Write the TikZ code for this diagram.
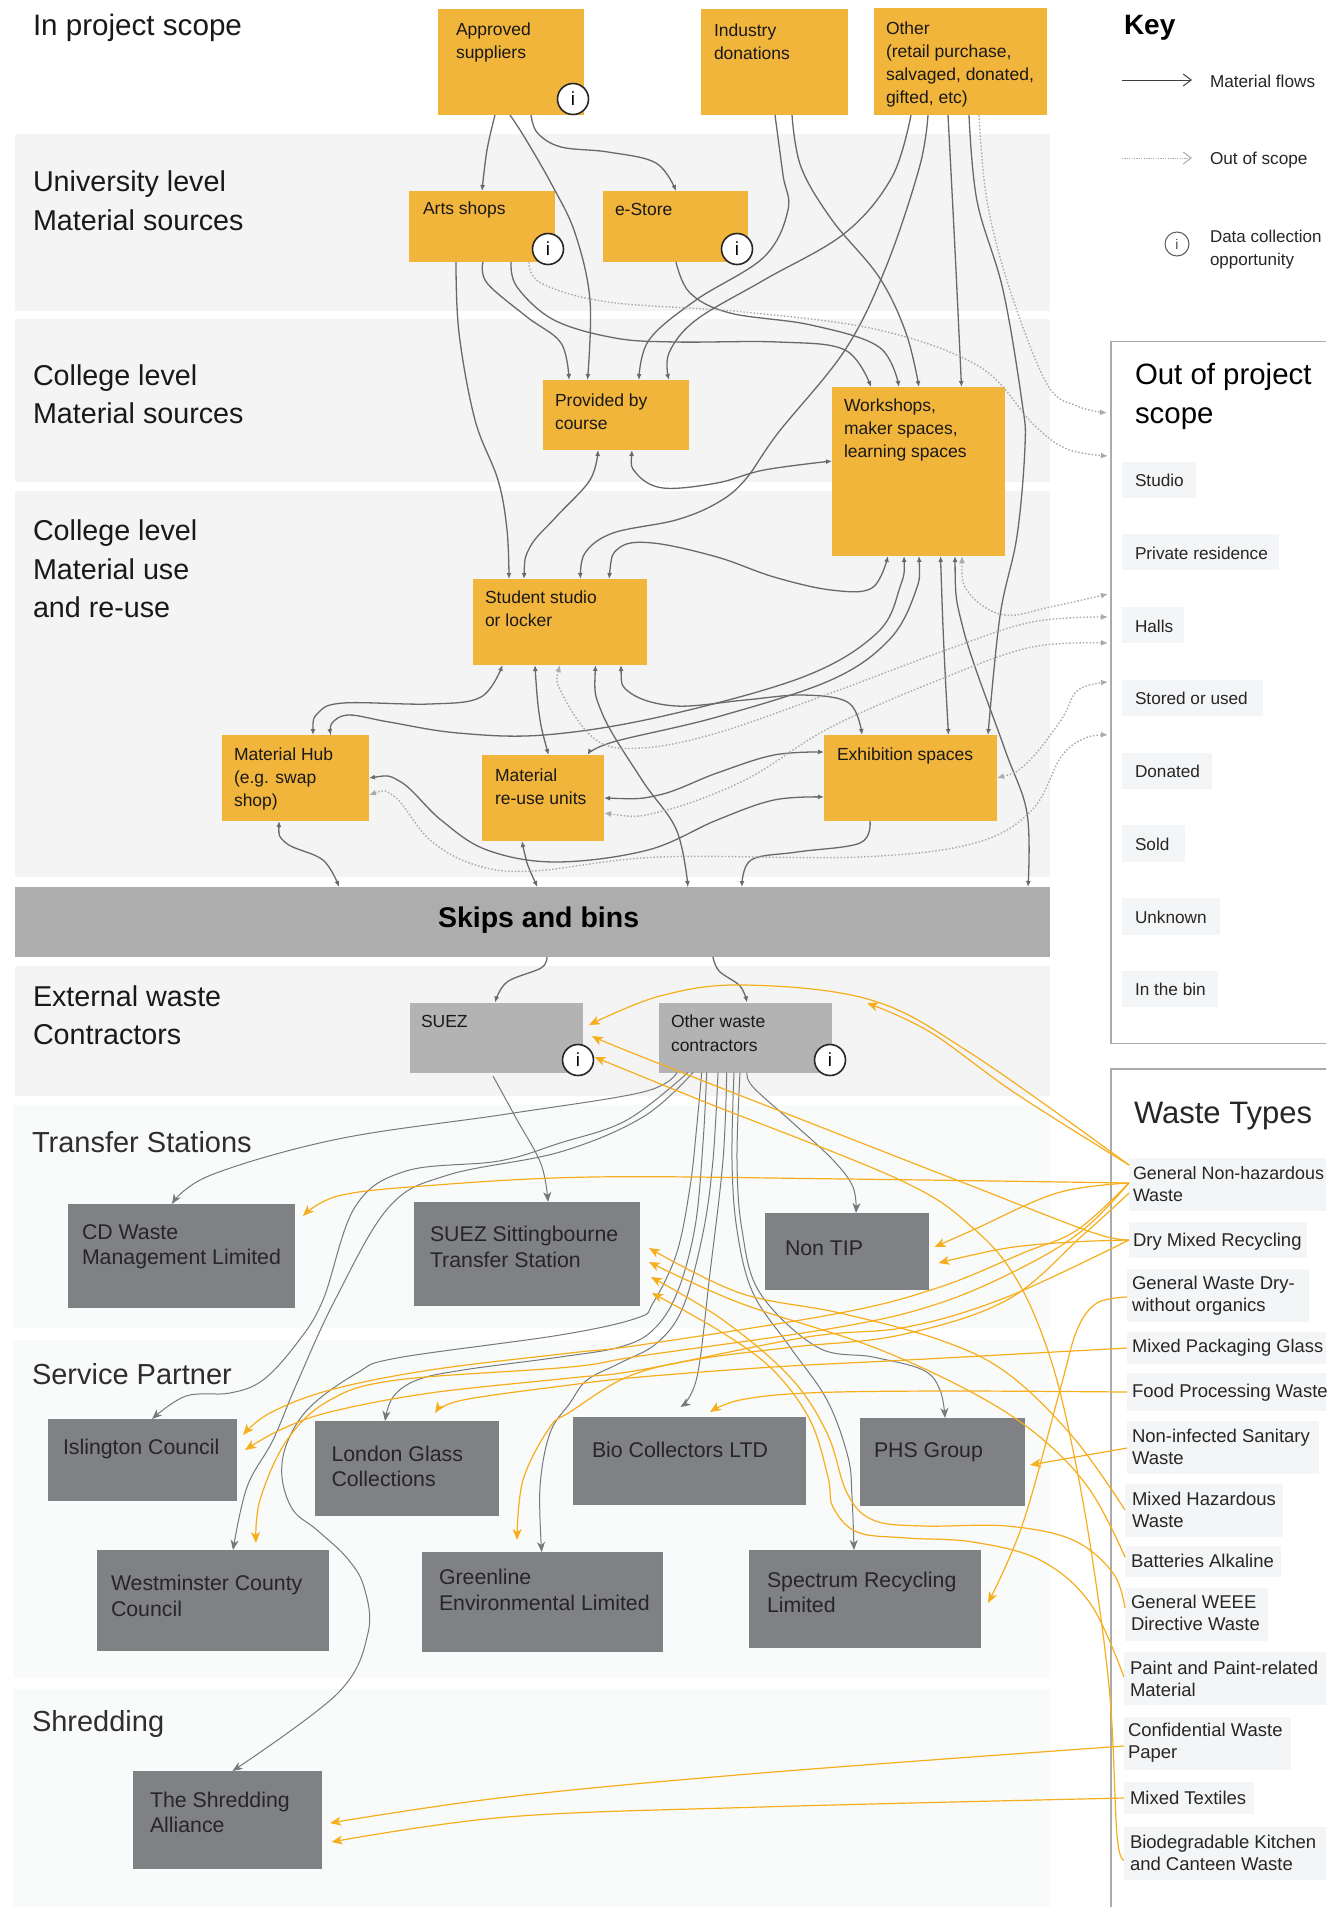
\documentclass[tikz,border=0pt]{standalone}
\usepackage{fontspec}
\setmainfont{Liberation Sans}
\usetikzlibrary{arrows.meta}
\definecolor{amber}{HTML}{F2B53C}
\definecolor{bandA}{HTML}{F4F4F4}
\definecolor{bandB}{HTML}{F9FAFA}
\definecolor{skipc}{HTML}{ADADAD}
\definecolor{suezc}{HTML}{B3B3B3}
\definecolor{darkbox}{HTML}{808184}
\definecolor{chipc}{HTML}{F4F5F6}
\definecolor{flowc}{HTML}{69696B}
\definecolor{wastec}{HTML}{77787A}
\definecolor{orangec}{HTML}{F7AE1C}
\definecolor{scopec}{HTML}{ABABAB}
\tikzset{
  boxbase/.style={rectangle,inner sep=0pt,outer sep=0pt,draw=none},
  bandA/.style={boxbase,fill=bandA},
  bandB/.style={boxbase,fill=bandB},
  amberbox/.style={boxbase,fill=amber},
  suezbox/.style={boxbase,fill=suezc},
  darkb/.style={boxbase,fill=darkbox},
  skipbox/.style={boxbase,fill=skipc},
  chip/.style={boxbase,fill=chipc},
  txt/.style={inner sep=0pt,outer sep=0pt,anchor=west,align=left},
  head/.style={txt,text=black!90,font=\fontsize{28.7}{38.5}\selectfont},
  headb/.style={txt,text=black!82,font=\fontsize{29}{38}\selectfont},
  amt/.style={txt,text=black!90,font=\fontsize{17.5}{23}\selectfont},
  sut/.style={txt,text=black!90,font=\fontsize{17.5}{24}\selectfont},
  dkt/.style={txt,text=black!85,font=\fontsize{21.3}{25.5}\selectfont},
  cht/.style={txt,text=black!85,font=\fontsize{17.2}{21.8}\selectfont},
  wct/.style={txt,text=black!85,font=\fontsize{18.5}{21.8}\selectfont},
  infoc/.style={circle,draw=black!85,fill=white,line width=1.6pt,minimum size=31pt,inner sep=0pt,font=\fontsize{19}{19}\selectfont},
  flowe/.style={draw=flowc,line width=1.3pt,-{Latex[length=6pt,width=5pt]}},
  flowb/.style={draw=flowc,line width=1.3pt,{Latex[length=6pt,width=5pt]}-{Latex[length=6pt,width=5pt]}},
  scopee/.style={draw=scopec,line width=1.4pt,dash pattern=on 1.5pt off 1.9pt,-{Latex[length=7pt,width=6pt]}},
  scopeb/.style={draw=scopec,line width=1.4pt,dash pattern=on 1.5pt off 1.9pt,{Latex[length=7pt,width=6pt]}-{Latex[length=7pt,width=6pt]}},
  wastee/.style={draw=wastec,line width=1pt,-{Stealth[length=10pt,width=8pt,inset=3pt]}},
  orangee/.style={draw=orangec,line width=1.2pt,-{Stealth[length=11pt,width=9pt,inset=3pt]}},
  frame/.style={draw=black!33,line width=1.3pt}
}
\newcommand\bx[6]{\node[#6,minimum width={(#4-#2)*1pt},minimum height={(#5-#3)*1pt}] (#1) at ({(#2+#4)/2},{(#3+#5)/2}) {};}
\newcommand\tx[5]{\node[#4] (#1) at (#2,#3) {#5};}
\newcommand\cv[2]{\draw[#1] plot[smooth,tension=0.6] coordinates {#2};}
\begin{document}
\begin{tikzpicture}[x=1pt,y=-1pt]
\useasboundingbox (0,0) rectangle (1326,1907);
\clip (0,0) rectangle (1326,1907);
\fill[white] (0,0) rectangle (1326,1907);
% bands
\bx{bUni}{15}{134}{1050}{311}{bandA}
\bx{bCol}{15}{319}{1050}{482}{bandA}
\bx{bUse}{15}{491}{1050}{877}{bandA}
\bx{bExt}{15}{966}{1050}{1096}{bandA}
\bx{bTra}{13}{1105}{1050}{1328}{bandB}
\bx{bSer}{13}{1340}{1050}{1678}{bandB}
\bx{bShr}{13}{1689}{1050}{1907}{bandB}
\bx{skips}{15}{887}{1050}{957}{skipbox}
% amber boxes
\bx{app}{438}{9}{584}{115}{amberbox}
\bx{ind}{701}{9}{848}{115}{amberbox}
\bx{oth}{874}{8}{1047}{115}{amberbox}
\bx{arts}{409}{191}{555}{262}{amberbox}
\bx{est}{603}{191}{748}{262}{amberbox}
\bx{prov}{543}{380}{689}{450}{amberbox}
\bx{work}{832}{387}{1005}{556}{amberbox}
\bx{stud}{473}{579}{647}{665}{amberbox}
\bx{hub}{222}{735}{369}{821}{amberbox}
\bx{reuse}{482}{755}{604}{841}{amberbox}
\bx{exh}{824}{735}{997}{821}{amberbox}
% contractors
\bx{suez}{410}{1002.5}{583}{1072.5}{suezbox}
\bx{owc}{659}{1002.5}{832}{1072.5}{suezbox}
% dark boxes
\bx{cd}{68}{1204}{295}{1307.5}{darkb}
\bx{sitt}{413.5}{1202}{640}{1306}{darkb}
\bx{ntip}{764.5}{1213}{928.5}{1290}{darkb}
\bx{isl}{48}{1419}{237}{1501}{darkb}
\bx{lon}{315}{1421}{499}{1516}{darkb}
\bx{bio}{573}{1417}{806}{1505}{darkb}
\bx{phs}{860}{1418}{1025}{1506}{darkb}
\bx{wes}{97}{1550}{329}{1651}{darkb}
\bx{gre}{422}{1552}{663}{1652}{darkb}
\bx{spe}{749}{1550}{981}{1648}{darkb}
\bx{shr}{133}{1771}{322}{1869}{darkb}
% right panels
\draw[frame] (1340,341.5) -- (1111,341.5) -- (1111,1043.5) -- (1340,1043.5);
\draw[frame] (1340,1069) -- (1111,1069) -- (1111,1920);
\bx{cStu}{1122}{462}{1196}{498}{chip}
\bx{cPri}{1122}{534}{1279}{570}{chip}
\bx{cHal}{1122}{607}{1184}{643}{chip}
\bx{cSto}{1122}{680}{1263}{716}{chip}
\bx{cDon}{1122}{753}{1212}{789}{chip}
\bx{cSol}{1122}{825}{1185}{862}{chip}
\bx{cUnk}{1122}{898}{1220}{935}{chip}
\bx{cBin}{1122}{971}{1218}{1007}{chip}
\bx{wGNH}{1129}{1158}{1340}{1211}{chip}
\bx{wDry}{1129}{1222}{1307}{1258}{chip}
\bx{wGWD}{1127}{1269}{1309}{1322}{chip}
\bx{wPac}{1127}{1332}{1340}{1364}{chip}
\bx{wFoo}{1127}{1373}{1340}{1411}{chip}
\bx{wSan}{1127}{1421}{1319}{1474}{chip}
\bx{wHaz}{1125}{1484}{1283}{1537}{chip}
\bx{wBat}{1125}{1546}{1281}{1577}{chip}
\bx{wWEE}{1125}{1588}{1268}{1641}{chip}
\bx{wPai}{1124}{1652}{1340}{1705}{chip}
\bx{wCon}{1124}{1717}{1291}{1770}{chip}
\bx{wTex}{1124}{1782}{1254}{1814}{chip}
\bx{wBio}{1124}{1827}{1340}{1880}{chip}
% free ends of out-of-scope flows at the panel
\coordinate (pA) at (1107,413);
\coordinate (pB) at (1108,456);
\coordinate (pC) at (1108,594);
\coordinate (pD) at (1108,617);
\coordinate (pE) at (1108,643);
\coordinate (pF) at (1108,682);
\coordinate (pG) at (1108,735);
% material flows
\cv{flowe}{(495,0 |- app.south) (487,150) (482,0 |- arts.north)}
\cv{flowe}{(510,0 |- app.south) (525,138) (552,185) (575,233) (590,300) (587.5,0 |- prov.north)}
\cv{flowe}{(531,0 |- app.south) (537.5,133) (561,147) (608,152) (656,163) (676,0 |- est.north)}
\cv{flowe}{(775,0 |- ind.south) (783,175) (788,210) (764,257) (696,300) (649,340) (639,0 |- prov.north)}
\cv{flowe}{(911,0 |- oth.south) (892,177) (845,233) (764,280) (696,320) (669,353) (669,0 |- prov.north)}
\cv{flowe}{(792,0 |- ind.south) (801,167) (832,220) (879,277) (906,333) (919,0 |- work.north)}
\cv{flowe}{(456,0 |- arts.south) (459,333) (475,420) (498,480) (507,530) (509,0 |- stud.north)}
\cv{flowe}{(483,0 |- arts.south) (487,283) (527,317) (561,343) (569,0 |- prov.north)}
\cv{flowe}{(511,0 |- arts.south) (517,287) (554,320) (615,338) (676,342) (778,342) (845,350) (871,0 |- work.north)}
\cv{flowe}{(676,0 |- est.south) (690,293) (730,313) (811,325) (879,347) (899,0 |- work.north)}
\cv{flowe}{(948,0 |- oth.south) (955,250) (961.5,0 |- work.north)}
\cv{flowe}{(928,0 |- oth.south) (919.5,167) (886,267) (845,350) (778,433) (745,480) (717,503) (676,520) (613,533) (585,553) (580.5,0 |- stud.north)}
\cv{flowe}{(969,0 |- oth.south) (977,201) (1003,290) (1022,402) (1025,446) (1017,536) (1000,616) (988,0 |- exh.north)}
\cv{flowb}{(632,0 |- prov.south) (636,473) (663,488) (717,483) (764,470) (work.west |- 0,461)}
\cv{flowb}{(524,0 |- stud.north) (530,547) (556,517) (590,480) (598,0 |- prov.south)}
\cv{flowb}{(609,0 |- stud.north) (619,548) (653,543) (717,557) (774,577) (831,590) (872,588) (888,0 |- work.south)}
\cv{flowb}{(904,0 |- work.south) (900,587) (877,633) (803,677) (659,717) (544,735) (458,733) (389,722) (349,715) (332,723) (331,0 |- hub.north)}
\cv{flowb}{(919,0 |- work.south) (915,593) (889,640) (831,680) (717,717) (613,742) (587.5,0 |- reuse.north)}
\cv{flowb}{(313,0 |- hub.north) (318,713) (343.5,703) (430,704) (481,697) (502.5,0 |- stud.south)}
\cv{flowb}{(548.5,0 |- reuse.north) (539,713) (535,0 |- stud.south)}
\cv{flowb}{(621,0 |- stud.south) (630.5,693) (676,706) (745,700) (803,695) (849,703) (862,0 |- exh.north)}
\cv{flowb}{(595.5,0 |- stud.south) (602,713) (642,780) (676.5,830) (688,0 |- skips.north)}
\cv{flowb}{(940.5,0 |- work.south) (944,650) (948.5,0 |- exh.north)}
\cv{flowb}{(955,0 |- work.south) (963.5,630) (1004,747) (1027,813) (1028,0 |- skips.north)}
\cv{flowb}{(reuse.east |- 0,798) (659,795) (717,773) (774,755) (exh.west |- 0,752)}
\cv{flowb}{(hub.east |- 0,778) (401,782) (441,820) (487,850) (556,862) (648,850) (717,820) (774,800) (exh.west |- 0,797)}
\cv{flowe}{(870,0 |- exh.south) (860,843) (797,852) (751,860) (742,0 |- skips.north)}
\cv{flowb}{(279,0 |- hub.south) (286,843) (323,860) (339,0 |- skips.north)}
\cv{flowb}{(522,0 |- reuse.south) (527,863) (537.5,0 |- skips.north)}
\cv{flowe}{(547,0 |- skips.south) (541,968) (507,982) (495,0 |- suez.north)}
\cv{flowe}{(713,0 |- skips.south) (719,971) (740,986) (747,0 |- owc.north)}
% out of scope flows
\cv{scopee}{(979,0 |- oth.south) (987,201) (1010,290) (1047,384) (1077,406) (pA)}
\cv{scopee}{(529,0 |- arts.south) (541,283) (608,302) (744,312) (879,330) (980,367) (1033,424) (1067,449) (pB)}
\cv{scopeb}{(560,0 |- stud.south) (561.7,693) (596,740) (642,748) (717,733) (831,693) (946,650) (1032,622) (pD)}
\cv{scopeb}{(962,0 |- work.south) (969,593) (1004,615) (1050,607) (pC)}
\cv{scopeb}{(reuse.east |- 0,813) (659,812) (745,780) (831,727) (946,677) (1032,647) (pE)}
\cv{scopeb}{(exh.east |- 0,778) (1027,763) (1061,720) (1078,690) (pF)}
\cv{scopeb}{(hub.east |- 0,795) (395,797) (430,840) (475.5,865) (533,871) (659,857) (860,857) (975,843) (1032,810) (1061,757) (1085,738) (pG)}
% waste flows
\cv{wastee}{(677,0 |- owc.south) (643,1092) (507,1114) (338,1139) (211,1175) (172,0 |- cd.north)}
\cv{wastee}{([shift={(83,3.5)}]suez.south west) (516,1118) (541,1164) (548,0 |- sitt.north)}
\cv{wastee}{(747,0 |- owc.south) (753,1087) (793,1123) (833,1160) (853,1187) (856,0 |- ntip.north)}
\cv{wastee}{(688,0 |- owc.south) (627,1120) (560,1143) (499,1161) (406,1171) (355,1207) (323,1300) (297,1343) (263,1380) (230,1393) (186,1396) (152,0 |- isl.north)}
\cv{wastee}{(693,0 |- owc.south) (643,1117) (560,1152) (448,1175) (389,1207) (335,1300) (297,1383) (273,1440) (247,1487) (233,0 |- wes.north)}
\cv{wastee}{(701.7,0 |- owc.south) (696.7,1127) (690,1187) (676.7,1253) (653,1303) (637,1318) (560,1335) (397,1358) (357,1373) (310,1407) (287,1443) (282,1477) (293,1510) (317,1530) (347,1558) (364,1587) (368,1633) (338,1693) (232.5,0 |- shr.north)}
\cv{wastee}{(706.7,0 |- owc.south) (703,1143) (695,1227) (677,1293) (653,1330) (620,1347) (560,1357) (463,1370) (417,1380) (393,1397) (385,0 |- lon.north)}
\cv{wastee}{(718,0 |- owc.south) (713,1160) (703,1233) (683,1307) (657,1343) (620,1363) (587,1380) (570,1403) (550,1433) (540,1487) (541.7,0 |- gre.north)}
\cv{wastee}{(726.7,0 |- owc.south) (723,1160) (710,1273) (697,1377) ([shift={(-9,-10)}]bio.north)}
\cv{wastee}{(734,0 |- owc.south) (732,1160) (737,1230) (753,1293) (790,1347) (827,1400) (848,1457) (852,1497) (854,0 |- spe.north)}
\cv{wastee}{(740,0 |- owc.south) (737,1160) (742,1230) (760,1293) (817,1347) (873,1357) (923,1370) (940,1390) (945,0 |- phs.north)}
% waste types (orange)
\cv{orangee}{(wGNH.west |- 0,1165) (972,1054) (871,1000) (744,985) (660,996) ([shift={(6,22.5)}]suez.north east)}
\cv{orangee}{(wGNH.west |- 0,1165) (1015,1093) (930,1032) ([shift={(35,0.5)}]owc.north east)}
\cv{orangee}{(wGNH.west |- 0,1183) (846,1179) (592,1177) (423,1186) (338,1196) ([shift={(8,12)}]cd.north east)}
\cv{orangee}{(wGNH.west |- 0,1183) (1057,1193) (973,1230) ([shift={(6,34)}]ntip.north east)}
\cv{orangee}{(wDry.west |- 0,1240) (1073,1242) (1007,1248) ([shift={(10,50)}]ntip.north east)}
\cv{orangee}{(wDry.west |- 0,1240) (1091,1232) (972,1186) (900,1158) (650,1060) ([shift={(9,33.5)}]suez.north east)}
\cv{orangee}{(wBio.west |- 0,1860) (1117,1835) (1110,1697) (1093,1563) (1073,1450) (1050,1357) (1017,1280) (973,1228) (900,1180) (700,1100) ([shift={(11.5,54.5)}]suez.north east)}
\cv{orangee}{(wGNH.west |- 0,1183) (1077,1230) (1023,1253) (940,1287) (840,1313) (640,1345) (570,1353) (430,1370) (330,1390) (270,1413) ([shift={(6,16)}]isl.north east)}
\cv{orangee}{(wDry.west |- 0,1240) (1007,1297) (907,1327) (807,1337) (640,1370) (570,1378) (430,1393) (330,1412) (280,1430) ([shift={(8,31)}]isl.north east)}
\cv{orangee}{(wGNH.west |- 0,1183) (1083,1230) (1023,1267) (940,1303) (840,1327) (640,1356) (570,1367) (397,1380) (330,1400) (287,1440) (260,1500) ([shift={(-73,-7)}]wes.north east)}
\cv{orangee}{(wPac.west |- 0,1348) (907,1360) (773,1367) (640,1377) (570,1385) (463,1400) ([shift={(-64,-8)}]lon.north east)}
\cv{orangee}{(wGNH.west |- 0,1193) (1083,1235) (1007,1300) (900,1335) (793,1347) (693,1360) (627,1377) (570,1412) (550,1427) (523,1480) ([shift={(95,-12)}]gre.north west)}
\cv{orangee}{(wFoo.west |- 0,1392) (940,1391) (807,1393) (740,1400) ([shift={(137,-5)}]bio.north west)}
\cv{orangee}{(wSan.west |- 0,1448) ([shift={(5,47)}]phs.north east)}
\cv{orangee}{(wGWD.west |- 0,1297) (1097,1303) (1077,1330) (1060,1390) (1023,1523) ([shift={(7,53)}]spe.north east)}
\cv{orangee}{(wHaz.west |- 0,1510) (1073,1437) (1007,1373) (940,1340) (840,1313) (740,1293) ([shift={(9,46)}]sitt.north east)}
\cv{orangee}{(wBat.west |- 0,1557) (1090,1490) (1040,1437) (973,1393) (873,1347) (740,1303) ([shift={(9,60)}]sitt.north east)}
\cv{orangee}{(wWEE.west |- 0,1608) (1113,1573) (1073,1540) (1007,1526) (923,1526) (873,1520) (847,1493) (827,1433) (790,1377) (723,1320) ([shift={(11,75)}]sitt.north east)}
\cv{orangee}{(wPai.west |- 0,1677) (1090,1603) (1040,1560) (973,1542) (907,1538) (857,1532) (833,1507) (828,1477) (810,1420) (773,1370) (723,1333) ([shift={(12,91)}]sitt.north east)}
\cv{orangee}{(wCon.west |- 0,1746) (761,1773) (507,1797) ([shift={(8,52)}]shr.north east)}
\cv{orangee}{(wTex.west |- 0,1798) (761,1807) (507,1817) ([shift={(9.5,71)}]shr.north east)}
% info markers
\node[infoc] (iApp) at (573,99) {i};
\node[infoc] (iArt) at (548,249) {i};
\node[infoc] (iEst) at (737,249) {i};
\node[infoc] (iSue) at (578,1060) {i};
\node[infoc] (iOwc) at (830,1060) {i};
% headings
\node[txt,text=black!90,font=\fontsize{29.6}{38}\selectfont] (h1) at (33,27.5) {In project scope};
\tx{h2}{33}{200.5}{head}{University level\\Material sources}
\tx{h3}{33}{394}{head}{College level\\Material sources}
\tx{h4}{33}{569}{head}{College level\\Material use\\and re-use}
\tx{h5}{33}{1015}{head}{External waste\\Contractors}
\tx{h6}{32}{1142}{headb}{Transfer Stations}
\tx{h7}{32}{1374}{headb}{Service Partner}
\tx{h8}{32}{1723.5}{headb}{Shredding}
\node[txt,font=\bfseries\fontsize{28.5}{30}\selectfont] (tSkip) at (438,920) {Skips and bins};
% box texts
\tx{tApp}{456}{42}{amt}{Approved\\suppliers}
\tx{tInd}{714}{42}{amt}{Industry\\donations}
\tx{tOth}{886}{64}{amt}{Other\\(retail purchase,\\salvaged, donated,\\gifted, etc)}
\tx{tArt}{423}{210}{amt}{Arts shops}
\tx{tEst}{615}{209}{amt}{e-Store}
\tx{tPro}{555}{412}{amt}{Provided by\\course}
\tx{tWor}{844}{430}{amt}{Workshops,\\maker spaces,\\learning spaces}
\tx{tStu}{485}{609}{amt}{Student studio\\or locker}
\tx{tHub}{234}{779}{amt}{Material Hub\\(e.g. swap\\shop)}
\tx{tReu}{495}{786.5}{amt}{Material\\re-use units}
\tx{tExh}{837}{756}{amt}{Exhibition spaces}
\tx{tSue}{421}{1021}{sut}{SUEZ}
\tx{tOwc}{671}{1033}{sut}{Other waste\\contractors}
\tx{tCd}{82}{1247}{dkt}{CD Waste\\Management Limited}
\tx{tSit}{430}{1247}{dkt}{SUEZ Sittingbourne\\Transfer Station}
\tx{tNon}{785}{1248}{dkt}{Non TIP}
\tx{tIsl}{63}{1449}{dkt}{Islington Council}
\tx{tLon}{331.5}{1466.5}{dkt}{London Glass\\Collections}
\tx{tBio}{592}{1450}{dkt}{Bio Collectors LTD}
\tx{tPhs}{874}{1452.5}{dkt}{PHS Group}
\tx{tWes}{111}{1596}{dkt}{Westminster County\\Council}
\tx{tGre}{439}{1590}{dkt}{Greenline\\Environmental Limited}
\tx{tSpe}{767}{1592.5}{dkt}{Spectrum Recycling\\Limited}
\tx{tShr}{150}{1812.5}{dkt}{The Shredding\\Alliance}
% key
\node[txt,font=\bfseries\fontsize{28}{30}\selectfont] (kHead) at (1124,28) {Key};
\coordinate (kA1) at (1122,80); \coordinate (kA2) at (1192,80);
\coordinate (kB1) at (1122,158); \coordinate (kB2) at (1192,158);
\draw[draw=black!75,line width=1pt,-{Straight Barb[length=8pt,width=12pt]}] (kA1) -- (kA2);
\draw[draw=scopec,line width=1pt,dash pattern=on 1.2pt off 1.2pt,-{Straight Barb[length=8pt,width=12pt]}] (kB1) -- (kB2);
\node[circle,draw=black!65,line width=1pt,minimum size=24pt,inner sep=0pt,font=\fontsize{14}{14}\selectfont,text=black!70] (kInfo) at (1177,244) {i};
\tx{k1}{1210}{81}{cht}{Material flows}
\tx{k2}{1210}{160}{cht}{Out of scope}
\node[cht,font=\fontsize{17}{23}\selectfont] (k3) at (1210,249.5) {Data collection\\opportunity};
% out of scope panel
\node[txt,font=\fontsize{29.4}{39}\selectfont] (hOut) at (1135,396.5) {Out of project\\scope};
\node[txt,font=\fontsize{31}{33}\selectfont,text=black!85] (hWas) at (1134,1116.5) {Waste Types};
\tx{o1}{1135}{480}{cht}{Studio}
\tx{o2}{1135}{553}{cht}{Private residence}
\tx{o3}{1135}{626}{cht}{Halls}
\tx{o4}{1135}{698.5}{cht}{Stored or used}
\tx{o5}{1135}{771.5}{cht}{Donated}
\tx{o6}{1135}{844}{cht}{Sold}
\tx{o7}{1135}{917}{cht}{Unknown}
\tx{o8}{1135}{989}{cht}{In the bin}
% waste chips
\node[wct,font=\fontsize{17.9}{21.8}\selectfont] (w1) at (1133,1184) {General Non-hazardous\\Waste};
\tx{w2}{1133}{1241.5}{wct}{Dry Mixed Recycling}
\tx{w3}{1132}{1295.5}{wct}{General Waste Dry-\\without organics}
\node[wct,font=\fontsize{18.3}{21.8}\selectfont] (w4) at (1132,1348) {Mixed Packaging Glass};
\tx{w5}{1132}{1393}{wct}{Food Processing Waste}
\tx{w6}{1132}{1447}{wct}{Non-infected Sanitary\\Waste}
\tx{w7}{1132}{1510}{wct}{Mixed Hazardous\\Waste}
\tx{w8}{1131}{1561}{wct}{Batteries Alkaline}
\tx{w9}{1131}{1613}{wct}{General WEEE\\Directive Waste}
\tx{w10}{1130}{1679}{wct}{Paint and Paint-related\\Material}
\tx{w11}{1128}{1743}{wct}{Confidential Waste\\Paper}
\tx{w12}{1130}{1798}{wct}{Mixed Textiles}
\tx{w13}{1130}{1853}{wct}{Biodegradable Kitchen\\and Canteen Waste}
\end{tikzpicture}
\end{document}
